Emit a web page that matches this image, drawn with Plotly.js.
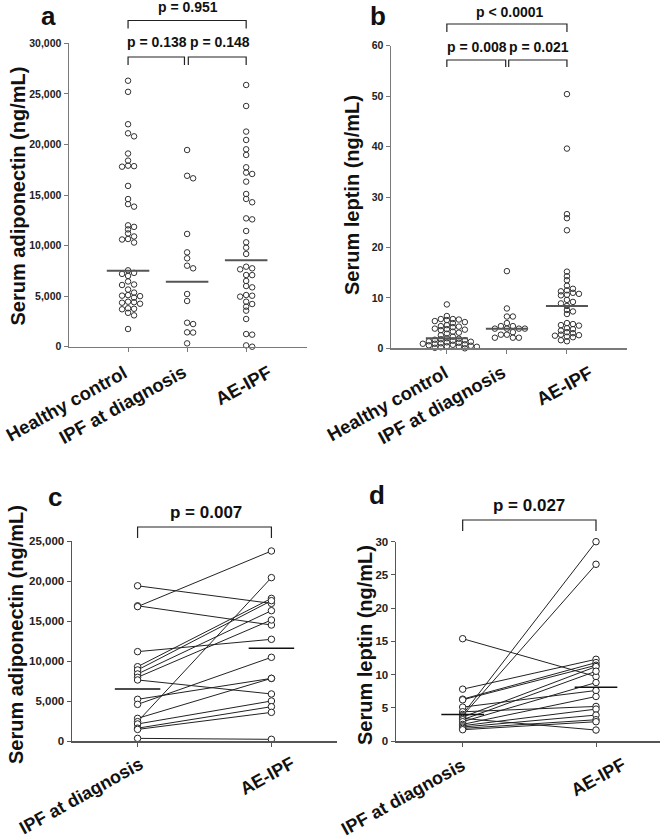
<!DOCTYPE html>
<html>
<head>
<meta charset="utf-8">
<script src="https://cdn.plot.ly/plotly-3.0.1.min.js"></script>
<style>
  body { margin: 0; background: #fff; }
  #chart { width: 660px; height: 838px; }
</style>
</head>
<body>
<div id="chart"></div>
<script>
const W = 660, H = 838;
const FONT = 'Liberation Sans, Arial, sans-serif';

// categories
const groupsAB = ['Healthy control', 'IPF at diagnosis', 'AE-IPF'];
const groupsCD = ['IPF at diagnosis', 'AE-IPF'];

// panel a: serum adiponectin (ng/mL)
const adipoHealthy = [26300, 25200, 22000, 21100, 20800, 19100, 18400, 17900, 17850, 17800,
  15900, 14600, 14100, 13850, 12000, 11850, 11600, 11200, 10900, 10650, 10600, 10300,
  7550, 7300, 7200, 7000, 6450, 6150, 6100, 5650, 5350, 5100, 5050, 5000, 4850, 4450,
  4400, 4350, 4250, 3800, 3750, 3700, 3350, 3100, 1750];
const adipoIpf = [19450, 16900, 16650, 11150, 9330, 8740, 8010, 7750, 5210, 4520, 2370, 2240, 1420, 1400, 330];
const adipoAe = [25880, 23800, 21270, 20440, 19520, 18960, 17740, 17210, 17080, 16320, 15100, 14610,
  14280, 12690, 12590, 11440, 10320, 9790, 9170, 7910, 7750, 7650, 7090, 7080, 6500, 6000, 5870,
  5110, 5040, 4950, 4450, 4220, 3960, 3560, 2740, 1250, 1190, 130, 0];
const adipoMedians = [7500, 6430, 8550];

// panel b: serum leptin (ng/mL)
const leptinHealthy = [8.7, 6.4, 5.8, 5.8, 5.7, 5.6, 5.4, 5.2, 5.0, 4.6, 4.4, 4.3, 4.2, 3.9, 3.8,
  3.7, 3.6, 3.3, 3.1, 2.9, 2.6, 2.3, 2.0, 1.9, 1.8, 1.7, 1.6, 1.5, 1.4, 1.3, 1.2, 1.1, 1.0, 0.9,
  0.9, 0.8, 0.7, 0.6, 0.5, 0.4, 0.3, 0.3, 0.2, 0.1, 0.0];
const leptinIpf = [15.3, 7.9, 6.3, 6.3, 5.0, 4.4, 4.4, 3.9, 3.9, 3.9, 3.9, 3.2, 2.7, 2.7, 2.1, 2.1, 2.1];
const leptinAe = [50.4, 39.6, 26.6, 25.8, 23.4, 15.2, 14.3, 13.5, 12.4, 11.8, 11.5, 11.3, 11.0, 10.8,
  10.6, 10.5, 9.6, 9.2, 8.9, 8.4, 7.6, 7.3, 6.8, 5.0, 4.8, 4.6, 4.5, 4.0, 3.8, 3.5, 3.2, 3.0, 2.7,
  2.6, 2.5, 2.3, 2.2, 1.6, 1.4];
const leptinMedians = [2.0, 3.9, 8.4];

// panel c: paired adiponectin, same patient at diagnosis and at AE-IPF
const pairedAdipoIpf = [19400, 16900, 16800, 11170, 9290, 8880, 8380, 7960, 7630, 5210, 4580, 2830, 2420, 2130, 1600, 1450, 330];
const pairedAdipoAe = [17200, 14500, 23750, 12710, 17830, 17540, 16290, 15130, 5880, 7830, 10460, 7830, 20420, 5000, 4290, 3580, 210];
const pairedAdipoMedians = [6500, 11600];

// panel d: paired leptin
const pairedLeptinIpf = [15.4, 7.8, 6.3, 6.2, 5.1, 4.4, 4.0, 3.8, 3.6, 3.4, 3.2, 2.9, 2.5, 2.3, 2.1, 1.9, 1.7];
const pairedLeptinAe = [9.7, 12.3, 11.8, 11.4, 7.6, 5.2, 30.0, 26.6, 11.2, 1.65, 10.5, 8.8, 6.7, 4.8, 3.9, 3.2, 2.9];
const pairedLeptinMedians = [4.0, 8.1];

// p values
const pTextA = ['p = 0.951', 'p = 0.138', 'p = 0.148'];
const pTextB = ['p < 0.0001', 'p = 0.008', 'p = 0.021'];
const pTextC = 'p = 0.007';
const pTextD = 'p = 0.027';

// panel geometry in pixels (plot area), and axis ranges
const geo = {
  a: { x: [69, 307], y: [43.3, 346.7], xr: [-1, 3.03], yr: [0, 30000] },
  b: { x: [391, 627], y: [45.7, 348.3], xr: [-0.93, 3.0], yr: [0, 60] },
  c: { x: [72, 337], y: [541, 741], xr: [-0.49, 1.49], yr: [0, 25000] },
  d: { x: [396, 660], y: [541.7, 741], xr: [-0.5, 1.48], yr: [0, 30] }
};
const sx = g => (g.x[1] - g.x[0]) / (g.xr[1] - g.xr[0]);
const sy = g => (g.y[1] - g.y[0]) / (g.yr[1] - g.yr[0]);
const py = px => 1 - px / H;

// row-style scatter: points that sit close in value are pushed sideways
function swarm(values, center, g, step, dyMin) {
  const kx = sx(g), ky = sy(g);
  const order = values.map((v, i) => i).sort((a, b) => values[b] - values[a]);
  const placed = [];
  const xs = new Array(values.length);
  order.forEach(i => {
    const yy = values[i] * ky;
    for (let k = 0; k < 60; k++) {
      const off = k === 0 ? 0 : (k % 2 ? 1 : -1) * Math.ceil(k / 2) * step;
      if (placed.every(p => Math.abs(p.x - off) >= step * 0.9 || Math.abs(p.y - yy) >= dyMin)) {
        placed.push({ x: off, y: yy });
        xs[i] = center + off / kx;
        break;
      }
    }
  });
  return xs;
}

const traces = [];

function dotGroup(values, center, g, xa, ya) {
  traces.push({
    x: swarm(values, center, g, 6, 3.6), y: values, xaxis: xa, yaxis: ya,
    type: 'scatter', mode: 'markers', cliponaxis: false, hoverinfo: 'y',
    marker: { symbol: 'circle-open', size: 5.5, color: '#333', line: { width: 1, color: '#333' } }
  });
}

function medianLines(meds, half, xa, ya, color, width) {
  const x = [], y = [];
  meds.forEach((m, i) => { x.push(i - half, i + half, null); y.push(m, m, null); });
  traces.push({ x, y, xaxis: xa, yaxis: ya, type: 'scatter', mode: 'lines', hoverinfo: 'skip',
    line: { color, width } });
}

function pairs(before, after, xa, ya) {
  const x = [], y = [];
  before.forEach((b, i) => { x.push(0, 1, null); y.push(b, after[i], null); });
  traces.push({ x, y, xaxis: xa, yaxis: ya, type: 'scatter', mode: 'lines+markers', cliponaxis: false,
    line: { color: '#222', width: 1 },
    marker: { symbol: 'circle', size: 6.5, color: '#fff', line: { width: 1, color: '#222' } } });
}

// a
[adipoHealthy, adipoIpf, adipoAe].forEach((v, i) => dotGroup(v, i, geo.a, 'x', 'y'));
medianLines(adipoMedians, 0.36, 'x', 'y', '#555', 2);
// b
[leptinHealthy, leptinIpf, leptinAe].forEach((v, i) => dotGroup(v, i, geo.b, 'x2', 'y2'));
medianLines(leptinMedians, 0.35, 'x2', 'y2', '#555', 2);
// c
pairs(pairedAdipoIpf, pairedAdipoAe, 'x3', 'y3');
medianLines(pairedAdipoMedians, 0.17, 'x3', 'y3', '#111', 1.5);
// d
pairs(pairedLeptinIpf, pairedLeptinAe, 'x4', 'y4');
medianLines(pairedLeptinMedians, 0.16, 'x4', 'y4', '#111', 1.5);

function xAxis(g, labels, anchor, color) {
  return {
    domain: [g.x[0] / W, g.x[1] / W], range: g.xr, anchor,
    tickvals: labels.map((t, i) => i), showticklabels: false,
    ticks: 'outside', ticklen: 4, tickcolor: color, tickwidth: 1,
    showline: true, linecolor: color, linewidth: 1.5, showgrid: false, zeroline: false, fixedrange: true
  };
}
function yAxis(g, dtick, fmt, anchor, color, size) {
  return {
    domain: [py(g.y[1]), py(g.y[0])], range: g.yr, anchor, dtick, tickformat: fmt,
    ticks: 'outside', ticklen: 4, tickcolor: color, tickwidth: 1,
    showline: true, linecolor: color, linewidth: 1.5, showgrid: false, zeroline: false,
    tickfont: { family: FONT, size, weight: 700, color: '#222' }, fixedrange: true
  };
}

const shapes = [];
function bracket(xref, x0, x1, yTop, yBot) {
  shapes.push({ type: 'path', xref, yref: 'paper',
    path: `M ${x0},${py(yBot)} L ${x0},${py(yTop)} L ${x1},${py(yTop)} L ${x1},${py(yBot)}`,
    line: { color: '#222', width: 1.2 } });
}
bracket('x', 0, 2, 20.5, 28.5);
bracket('x', 0, 0.955, 57, 65);
bracket('x', 1.02, 2, 57, 65);
bracket('x2', 0, 2, 24, 32);
bracket('x2', 0, 0.98, 60, 67);
bracket('x2', 1.03, 2, 60, 67);
bracket('x3', 0, 1, 527, 538);
bracket('x4', 0, 1, 520, 531);

const annotations = [];
function note(text, xref, x, yPx, size, extra) {
  annotations.push(Object.assign({ text, xref, yref: 'paper', x, y: py(yPx),
    xanchor: 'center', yanchor: 'middle', showarrow: false,
    font: { family: FONT, size, weight: 700, color: '#111' } }, extra || {}));
}
note(pTextA[0], 'x', 1.02, 7.5, 14);
note(pTextA[1], 'x', 0.49, 42, 14);
note(pTextA[2], 'x', 1.56, 42, 14);
note(pTextB[0], 'x2', 1.05, 12, 14);
note(pTextB[1], 'x2', 0.5, 47, 14);
note(pTextB[2], 'x2', 1.53, 47, 14);
note(pTextC, 'x3', 0.51, 512, 17);
note(pTextD, 'x4', 0.5, 505, 17);

// panel letters
const top0 = { yanchor: 'top', borderpad: 0 };
note('a', 'paper', 48 / W, 0, 26, top0);
note('b', 'paper', 378 / W, 0, 26, top0);
note('c', 'paper', 55 / W, 481, 26, top0);
note('d', 'paper', 377 / W, 479, 26, top0);

// y-axis titles
note('Serum adiponectin (ng/mL)', 'paper', 17.5 / W, 196, 20, { textangle: -90 });
note('Serum leptin (ng/mL)', 'paper', 352 / W, 195, 20, { textangle: -90 });
note('Serum adiponectin (ng/mL)', 'paper', 16 / W, 635, 20, { textangle: -90 });
note('Serum leptin (ng/mL)', 'paper', 365 / W, 645, 20, { textangle: -90 });

// slanted category labels, top-right corner hung under each tick
function catLabels(labels, xref, topPx, shifts, size) {
  labels.forEach((t, i) => note(t, xref, i, topPx, size,
    { xanchor: 'right', yanchor: 'top', xshift: shifts[i], textangle: -29, borderpad: 0 }));
}
catLabels(groupsAB, 'x', 360, [4, 4, 30], 18.5);
catLabels(groupsAB, 'x2', 360, [6, 4, 31], 18.5);
catLabels(groupsCD, 'x3', 752, [10, 28], 18);
catLabels(groupsCD, 'x4', 753, [7, 35], 18);

const gray = '#7a7a7a', dark = '#555';
const layout = {
  width: W, height: H, margin: { l: 0, r: 0, t: 0, b: 0 },
  paper_bgcolor: '#fff', plot_bgcolor: 'rgba(0,0,0,0)', showlegend: false,
  font: { family: FONT },
  xaxis: xAxis(geo.a, groupsAB, 'y', gray),
  yaxis: yAxis(geo.a, 5000, ',d', 'x', gray, 10.5),
  xaxis2: xAxis(geo.b, groupsAB, 'y2', gray),
  yaxis2: yAxis(geo.b, 10, 'd', 'x2', gray, 10.5),
  xaxis3: xAxis(geo.c, groupsCD, 'y3', dark),
  yaxis3: yAxis(geo.c, 5000, ',d', 'x3', dark, 11.5),
  xaxis4: xAxis(geo.d, groupsCD, 'y4', dark),
  yaxis4: yAxis(geo.d, 5, 'd', 'x4', dark, 11.5),
  shapes, annotations
};

Plotly.newPlot('chart', traces, layout, { displayModeBar: false, staticPlot: true });
</script>
</body>
</html>
